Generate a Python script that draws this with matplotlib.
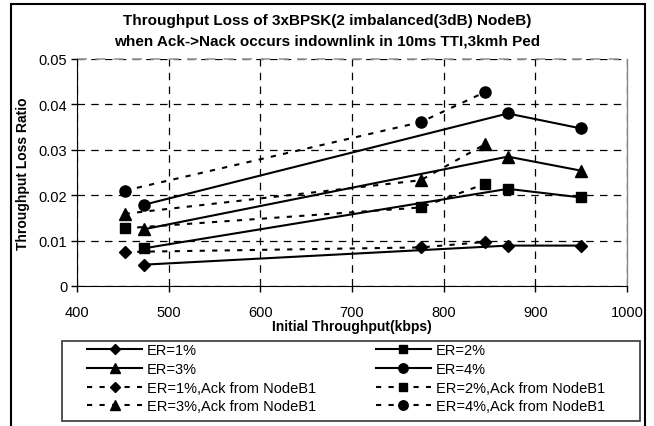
import matplotlib
matplotlib.use("Agg")
import matplotlib.pyplot as plt
from matplotlib.patches import Rectangle

plt.rcParams['font.family'] = ['Liberation Sans', 'DejaVu Sans']

# x positions (kbps)
x_solid = [473, 870, 950]
x_ack = [452, 775, 845]

# throughput loss ratio
er1 = [0.0047, 0.0089, 0.0089]
er2 = [0.0083, 0.0214, 0.0195]
er3 = [0.0125, 0.0285, 0.0254]
er4 = [0.0179, 0.0380, 0.0347]
er1_ack = [0.0075, 0.0085, 0.0097]
er2_ack = [0.0127, 0.0173, 0.0225]
er3_ack = [0.0159, 0.0233, 0.0312]
er4_ack = [0.0210, 0.0361, 0.0427]

labels = ['ER=1%', 'ER=2%', 'ER=3%', 'ER=4%',
          'ER=1%,Ack from NodeB1', 'ER=2%,Ack from NodeB1',
          'ER=3%,Ack from NodeB1', 'ER=4%,Ack from NodeB1']
markers = ['D', 's', '^', 'o']
msizes = [6, 7, 8, 8]

W, H = 654, 427
fig = plt.figure(figsize=(W / 100, H / 100), dpi=100)
ax = fig.add_axes([77 / W, 1 - 287 / H, 550 / W, 227 / H])

lines = {}
solid = [er1, er2, er3, er4]
ack = [er1_ack, er2_ack, er3_ack, er4_ack]
for i in range(4):
    l, = ax.plot(x_solid, solid[i], color='black', lw=1.5, marker=markers[i],
                 ms=msizes[i], label=labels[i])
    lines[labels[i]] = l
    l2, = ax.plot(x_ack, ack[i], color='black', lw=1.5, ls=(0, (2.5, 3.5)),
                  marker=markers[i], ms=msizes[i], label=labels[i + 4])
    lines[labels[i + 4]] = l2

ax.set_xlim(400, 1000)
ax.set_ylim(0, 0.05)
ax.set_xticks([400, 500, 600, 700, 800, 900, 1000])
ax.set_yticks([0, 0.01, 0.02, 0.03, 0.04, 0.05])
ax.set_yticklabels(['0', '0.01', '0.02', '0.03', '0.04', '0.05'])
ax.tick_params(labelsize=10.5, length=4, direction='out', width=1, pad=3)
ax.tick_params(axis='x', length=4, pad=10)
ax.grid(True, color='black', ls=(0, (6, 5)), lw=0.9)
ax.set_axisbelow(True)
ax.spines['right'].set_color('#888888')
ax.spines['right'].set_linewidth(1)
ax.spines['top'].set_visible(False)
ax.axhline(0.05, color='#999999', ls=(0, (6, 5)), lw=1.2, clip_on=False)

fig.text(0.5, 1 - 21 / H, 'Throughput Loss of 3xBPSK(2 imbalanced(3dB) NodeB)',
         ha='center', va='center', fontsize=11, fontweight='bold')
fig.text(0.5, 1 - 42 / H, 'when Ack->Nack occurs indownlink in 10ms TTI,3kmh Ped',
         ha='center', va='center', fontsize=11, fontweight='bold')
ax.set_ylabel('Throughput Loss Ratio', fontsize=10, fontweight='bold', labelpad=6)
ax.set_xlabel('Initial Throughput(kbps)', fontsize=10, fontweight='bold', labelpad=0)

order = [labels[0], labels[2], labels[4], labels[6],
         labels[1], labels[3], labels[5], labels[7]]
leg = fig.legend([lines[k] for k in order], order, ncol=2,
                 bbox_to_anchor=(87 / W, 1 - 344 / H),
                 loc='upper left', fontsize=10.5, frameon=False,
                 handlelength=3.8, markerscale=0.85, columnspacing=4.1,
                 borderaxespad=0, labelspacing=0.33, handletextpad=0.3,
                 borderpad=0)

# legend frame and chart-area border
fig.patches.append(Rectangle((62 / W, 1 - 422 / H), 578 / W, 80 / H,
                             transform=fig.transFigure, fill=False,
                             edgecolor='#444444', lw=1.3))
fig.patches.append(Rectangle((11 / W, -0.05), 634 / W, 1.05 - 5 / H,
                             transform=fig.transFigure, fill=False,
                             edgecolor='black', lw=1.5))

fig.savefig('out.png', dpi=100)
